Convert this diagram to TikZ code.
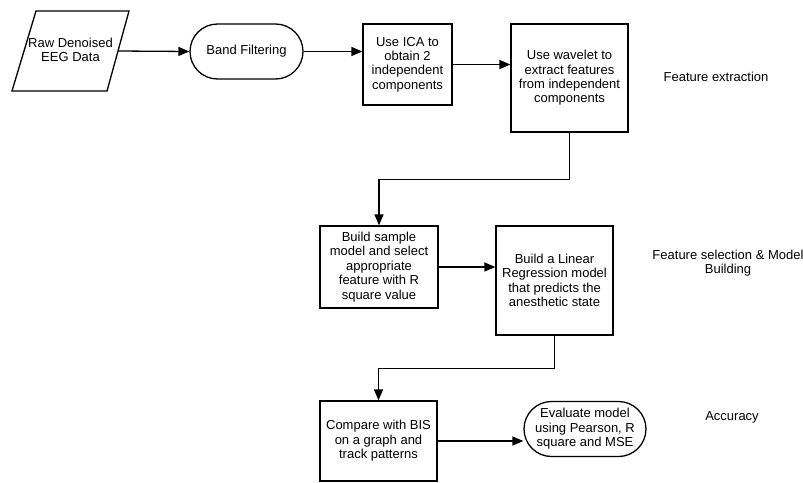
\documentclass[tikz,border=0pt]{standalone}
\usepackage{fontspec}
\setmainfont{Liberation Sans}
\usetikzlibrary{arrows.meta,shapes.misc}
\tikzset{
  box/.style={draw, line width=1.3pt, align=center, inner sep=2pt},
  pill/.style={draw, rounded rectangle, line width=1.3pt, align=center, inner sep=2pt},
  flow/.style={line width=1.3pt, -{Triangle[length=11pt,width=9pt]}},
  lbl/.style={align=center}
}
\begin{document}
\begin{tikzpicture}[x=1pt,y=-1pt,font=\fontsize{13}{14.4}\selectfont]
    \useasboundingbox (0,0) rectangle (803,482);
    % input data
    \coordinate (bl) at (12,91);
    \coordinate (br) at (107,91);
    \coordinate (tr) at (129,11);
    \coordinate (tl) at (36,11);
    \coordinate (rawout) at (118,51);
    \draw[line width=1.3pt] (bl) -- (br) -- (tr) -- (tl) -- cycle;
    \node[lbl] (raw) at (70.5,49.7) {Raw Denoised\\EEG Data};
    % feature extraction
    \node[pill, minimum width=117, minimum height=55] (band) at (246.5,51.5) {Band Filtering};
    \node[box, minimum width=89, minimum height=81] (ica) at (407.5,64.5) {Use ICA to\\obtain 2\\independent\\components};
    \node[box, minimum width=117, minimum height=108] (wav) at (569.5,78) {Use wavelet to\\extract features\\from independent\\components};
    % feature selection
    \node[box, minimum width=118, minimum height=82] (samp) at (379,267) {Build sample\\model and select\\appropriate\\feature with R\\square value};
    \node[box, minimum width=117, minimum height=109] (lin) at (554.5,280.5) {Build a Linear\\Regression model\\that predicts the\\anesthetic state};
    % accuracy
    \node[box, minimum width=117, minimum height=80] (comp) at (378.5,441) {Compare with BIS\\on a graph and\\track patterns};
    \node[pill, minimum width=116, minimum height=55] (eval) at (585,429) {Evaluate model\\using Pearson, R\\square and MSE};
    % stage labels
    \node[lbl] (fe) at (716,77) {Feature extraction};
    \node[lbl] (fs) at (728,263) {Feature selection \& Model\\Building};
    \node[lbl] (acc) at (732,417) {Accuracy};
    % arrows
    \draw[flow] (rawout) -- (band.west);
    \draw[flow] (band.east) -- (band.east -| ica.west);
    \draw[flow] (ica.east) -- (ica.east -| wav.west);
    \draw[flow] (wav.south) -- ++(0,47) -| (samp.north);
    \draw[flow] (samp.east) -- (samp.east -| lin.west);
    \draw[flow] (lin.south) -- ++(0,32.5) -| (comp.north);
    \draw[flow] (comp.east) -- (comp.east -| eval.west);
\end{tikzpicture}
\end{document}
